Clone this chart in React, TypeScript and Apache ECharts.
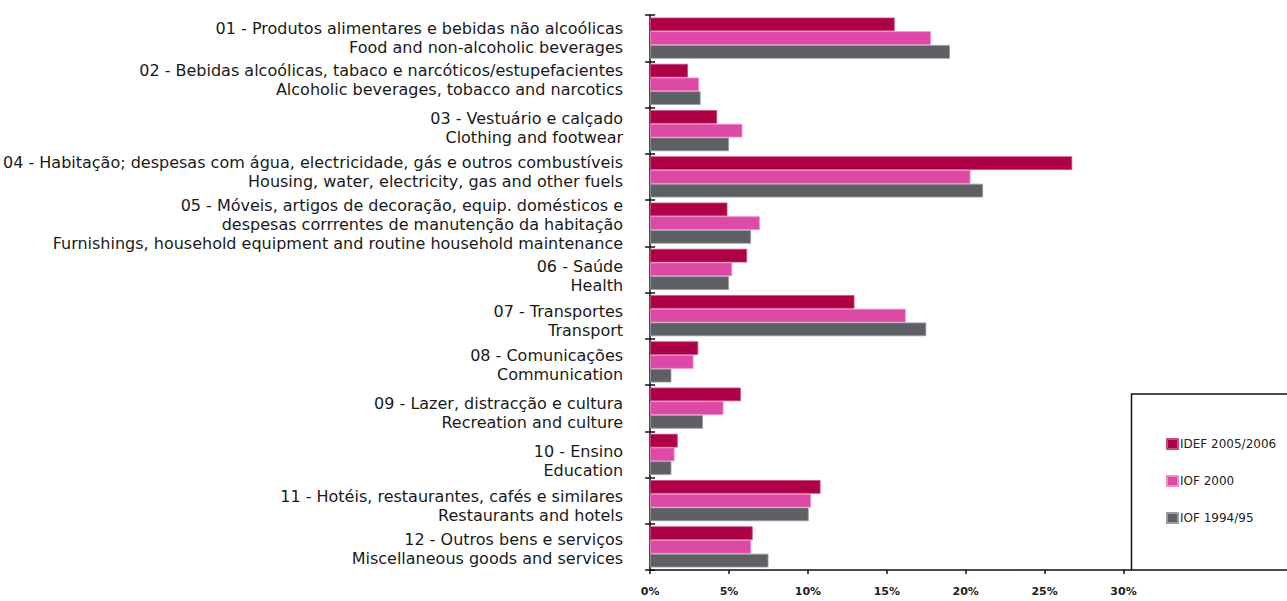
import React, { useEffect, useRef } from "react";
import * as echarts from "echarts";

const categories: string[] = [
  "01 - Produtos alimentares e bebidas não alcoólicas\nFood and non-alcoholic beverages",
  "02 - Bebidas alcoólicas, tabaco e narcóticos/estupefacientes\nAlcoholic beverages, tobacco and narcotics",
  "03 - Vestuário e calçado\nClothing and footwear",
  "04 - Habitação; despesas com água, electricidade, gás e outros combustíveis\nHousing, water, electricity, gas and other fuels",
  "05 - Móveis, artigos de decoração, equip. domésticos e\ndespesas corrrentes de manutenção da habitação\nFurnishings, household equipment and routine household maintenance",
  "06 - Saúde\nHealth",
  "07 - Transportes\nTransport",
  "08 - Comunicações\nCommunication",
  "09 - Lazer, distracção e cultura\nRecreation and culture",
  "10 - Ensino\nEducation",
  "11 - Hotéis, restaurantes, cafés e similares\nRestaurants and hotels",
  "12 - Outros bens e serviços\nMiscellaneous goods and services",
];

const seriesNames: string[] = ["IDEF 2005/2006", "IOF 2000", "IOF 1994/95"];

const idef2005: number[] = [15.5, 2.4, 4.25, 26.75, 4.9, 6.15, 12.95, 3.05, 5.75, 1.75, 10.8, 6.5];
const iof2000: number[] = [17.8, 3.1, 5.85, 20.3, 6.95, 5.2, 16.2, 2.75, 4.65, 1.55, 10.2, 6.4];
const iof1994: number[] = [19.0, 3.2, 5.0, 21.1, 6.4, 5.0, 17.5, 1.35, 3.35, 1.35, 10.05, 7.5];

const xTicks: number[] = [0, 5, 10, 15, 20, 25, 30];

// vertical nudge of each category label (px, positive = down), as laid out in the source
const labelNudge: number[] = [-0.5, -4, -3, -4.5, 1, 7, 5, 3, 5, 6.5, 5, 2];

const colors: string[] = ["#ad0047", "#dd4aa6", "#5e6066"];
const borderColors: string[] = ["#c94d82", "#f08ccb", "#9a9ca0"];

const FONT = "DejaVu Sans";
const LABEL_SIZE = 16;
const LINE_H = 19;

export default function App() {
  const ref = useRef<HTMLDivElement>(null);

  useEffect(() => {
    if (!ref.current) return;
    const chart = echarts.init(ref.current, undefined, { renderer: "svg" });
    const data = [idef2005, iof2000, iof1994];
    const rich: Record<string, any> = {};
    labelNudge.forEach((d, i) => {
      rich["c" + i] = {
        fontFamily: FONT,
        fontSize: LABEL_SIZE,
        color: "#1a1a1a",
        lineHeight: LINE_H,
        align: "right",
        padding: d >= 0 ? [2 * d, 0, 0, 0] : [0, 0, -2 * d, 0],
      };
    });
    chart.setOption({
      animation: false,
      textStyle: { fontFamily: FONT },
      grid: { left: 649, right: 163.5, top: 15, bottom: 31, containLabel: false },
      legend: {
        orient: "vertical",
        left: 1161,
        top: 433,
        itemWidth: 11,
        itemHeight: 10,
        itemGap: 25,
        icon: "rect",
        data: seriesNames,
        textStyle: { fontFamily: FONT, fontSize: 12, color: "#222", padding: [0, 0, 0, -3] },
      },
      xAxis: {
        type: "value",
        min: xTicks[0],
        max: xTicks[xTicks.length - 1],
        interval: 5,
        splitLine: { show: false },
        axisLine: { show: true, lineStyle: { color: "#111", width: 1.5 } },
        axisTick: { show: true, length: 4, lineStyle: { color: "#111", width: 1.5 } },
        axisLabel: {
          formatter: (v: number) => `${v}%`,
          fontFamily: FONT,
          fontSize: 11,
          fontWeight: "bold",
          color: "#222",
          margin: 16,
        },
      },
      yAxis: [
        {
          type: "category",
          inverse: true,
          data: categories,
          axisLine: { show: true, lineStyle: { color: "#111", width: 1.5 } },
          axisTick: { show: true, length: 5, lineStyle: { color: "#111", width: 1.5 } },
          axisLabel: {
            fontFamily: FONT,
            fontSize: LABEL_SIZE,
            color: "#1a1a1a",
            lineHeight: LINE_H,
            margin: 27,
            interval: 0,
            align: "right",
            formatter: (value: string, index: number) =>
              value
                .split("\n")
                .map((l) => `{c${index}|${l}}`)
                .join("\n"),
            rich,
          },
        },
        {
          type: "category",
          inverse: true,
          position: "left",
          data: categories,
          axisLine: { show: false },
          axisTick: { show: true, inside: true, length: 5, lineStyle: { color: "#111", width: 1.5 } },
          axisLabel: { show: false },
          splitLine: { show: false },
        },
      ],
      series: seriesNames.map((name, i) => ({
        name,
        type: "bar",
        yAxisIndex: 0,
        data: data[i],
        barGap: "0%",
        barCategoryGap: "11%",
        itemStyle: { color: colors[i], borderColor: borderColors[i], borderWidth: 0.8 },
      })),
      graphic: [
        {
          type: "rect",
          shape: { x: 1131.5, y: 394, width: 170, height: 176 },
          style: { fill: "none", stroke: "#111", lineWidth: 1.5 },
          z: 10,
        },
        {
          type: "line",
          shape: { x1: 1123, y1: 570, x2: 1132, y2: 570 },
          style: { stroke: "#111", lineWidth: 1.5 },
          z: 10,
        },
      ],
    });
    return () => chart.dispose();
  }, []);

  return <div ref={ref} style={{ width: 1287, height: 601, position: "absolute", left: 0, top: 0 }} />;
}
